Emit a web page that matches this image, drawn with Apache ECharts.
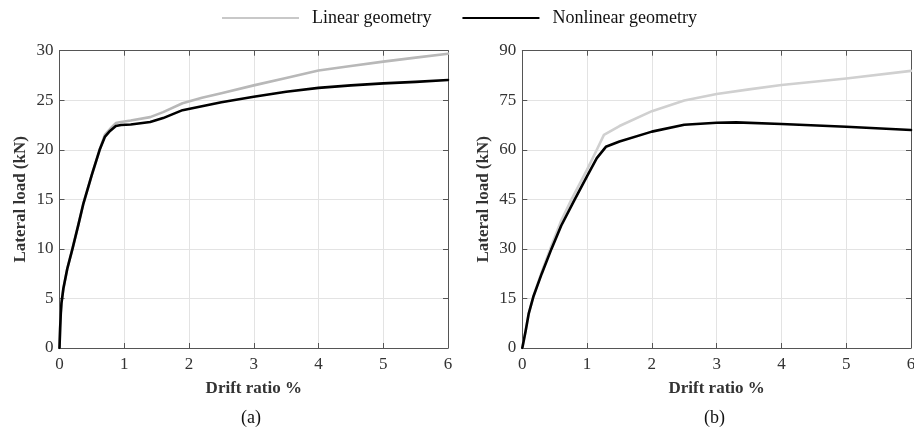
<!DOCTYPE html>
<html>
<head>
<meta charset="utf-8">
<script src="https://cdn.jsdelivr.net/npm/echarts@6/dist/echarts.min.js"></script>
<style>html,body{margin:0;padding:0;background:#fff}#c{width:914px;height:433px}</style>
</head>
<body>
<div id="c"></div>
<script>
// Panel (a)
const aLinX = [0, 0.01, 0.02, 0.03, 0.06, 0.12, 0.2, 0.29, 0.37, 0.5, 0.62, 0.7, 0.78, 0.87, 0.95, 1.1, 1.4, 1.6, 1.9, 2.2, 2.5, 3.0, 3.5, 4.0, 4.5, 5.0, 5.5, 6.0];
const aLinY = [0, 2, 3.5, 4.5, 6, 8, 10, 12.4, 14.6, 17.5, 20, 21.5, 22.1, 22.7, 22.8, 22.95, 23.3, 23.8, 24.7, 25.25, 25.7, 26.5, 27.25, 28.0, 28.45, 28.9, 29.3, 29.7];
const aNonX = [0, 0.01, 0.02, 0.03, 0.06, 0.12, 0.2, 0.29, 0.37, 0.5, 0.62, 0.7, 0.78, 0.87, 0.95, 1.1, 1.4, 1.6, 1.9, 2.2, 2.5, 3.0, 3.5, 4.0, 4.5, 5.0, 5.5, 6.0];
const aNonY = [0, 2, 3.5, 4.5, 6, 8, 10, 12.4, 14.6, 17.5, 20, 21.3, 21.9, 22.4, 22.5, 22.55, 22.8, 23.2, 24.0, 24.4, 24.8, 25.35, 25.85, 26.25, 26.5, 26.7, 26.85, 27.05];
// Panel (b)
const bLinX = [0, 0.02, 0.05, 0.1, 0.17, 0.3, 0.45, 0.6, 0.76, 1.0, 1.15, 1.26, 1.5, 2.0, 2.5, 3.0, 3.5, 4.0, 5.0, 6.0];
const bLinY = [0, 0, 5, 10.5, 15.5, 23, 31, 38.5, 45, 54, 60, 64.5, 67.2, 71.7, 74.9, 76.9, 78.3, 79.6, 81.6, 83.9];
const bNonX = [0, 0.02, 0.05, 0.1, 0.17, 0.3, 0.45, 0.6, 0.81, 1.0, 1.15, 1.29, 1.5, 2.0, 2.5, 3.0, 3.3, 4.0, 5.0, 6.0];
const bNonY = [0, 0, 5, 10.5, 15.5, 22.5, 30, 37, 45, 52, 57.5, 60.9, 62.5, 65.5, 67.6, 68.2, 68.3, 67.8, 67.0, 66.0];

const xTicks = [0, 1, 2, 3, 4, 5, 6];
const aYTicks = [0, 5, 10, 15, 20, 25, 30];
const bYTicks = [0, 15, 30, 45, 60, 75, 90];

const zip = (xs, ys) => xs.map((x, i) => [x, ys[i]]);
const serif = 'Liberation Serif';
const axisColor = '#555';
const gridColor = '#e3e3e3';

function xAxis(grid, pos, show) {
  return {
    type: 'value', gridIndex: grid, position: pos,
    min: xTicks[0], max: xTicks[xTicks.length - 1], interval: 1,
    axisLine: { show: true, onZero: false, lineStyle: { color: axisColor, width: 1 } },
    axisTick: { show: true, inside: true, length: 5, lineStyle: { color: axisColor } },
    axisLabel: { show: show, color: '#333', fontFamily: serif, fontSize: 17, margin: 8, hideOverlap: false },
    splitLine: { show: show, lineStyle: { color: gridColor, width: 1 } },
    name: show ? 'Drift ratio %' : '', nameLocation: 'middle', nameGap: 32,
    nameTextStyle: { color: '#333', fontFamily: serif, fontSize: 17, fontWeight: 'bold' }
  };
}
function yAxis(grid, pos, show, ticks) {
  return {
    type: 'value', gridIndex: grid, position: pos,
    min: ticks[0], max: ticks[ticks.length - 1], interval: ticks[1] - ticks[0],
    axisLine: { show: true, onZero: false, lineStyle: { color: axisColor, width: 1 } },
    axisTick: { show: true, inside: true, length: 5, lineStyle: { color: axisColor } },
    axisLabel: { show: show, color: '#333', fontFamily: serif, fontSize: 17, margin: 6 },
    splitLine: { show: show, lineStyle: { color: gridColor, width: 1 } },
    name: show ? 'Lateral load (kN)' : '', nameLocation: 'middle', nameGap: 30, nameRotate: 90,
    nameTextStyle: { color: '#333', fontFamily: serif, fontSize: 17, fontWeight: 'bold' }
  };
}
function line(name, data, xi, yi, color, z) {
  return {
    name: name, type: 'line', xAxisIndex: xi, yAxisIndex: yi, data: data,
    symbol: 'none', smooth: false, z: z,
    lineStyle: { color: color, width: 2.6, join: 'round', cap: 'round' }, itemStyle: { color: color },
    animation: false
  };
}

const chart = echarts.init(document.getElementById('c'), null, { renderer: 'canvas' });
chart.setOption({
  backgroundColor: '#fff',
  animation: false,
  legend: {
    left: 217, top: 4, itemWidth: 77, itemHeight: 14, itemGap: 31,
    icon: 'path://M0,6 L77,6 L77,8 L0,8 Z',
    textStyle: { fontFamily: serif, fontSize: 18, color: '#111', padding: [0, 0, 0, 8] },
    data: [
      { name: 'Linear geometry', itemStyle: { color: '#c8c8c8' } },
      { name: 'Nonlinear geometry', itemStyle: { color: '#000' } }
    ]
  },
  grid: [
    { left: 59.5, right: 466, top: 50.7, bottom: 85, containLabel: false, outerBoundsMode: 'none' },
    { left: 522.3, right: 3, top: 50.7, bottom: 85, containLabel: false, outerBoundsMode: 'none' }
  ],
  xAxis: [xAxis(0, 'bottom', true), xAxis(0, 'top', false), xAxis(1, 'bottom', true), xAxis(1, 'top', false)],
  yAxis: [yAxis(0, 'left', true, aYTicks), yAxis(0, 'right', false, aYTicks), yAxis(1, 'left', true, bYTicks), yAxis(1, 'right', false, bYTicks)],
  series: [
    line('Linear geometry', zip(aLinX, aLinY), 0, 0, '#b8b8b8', 2),
    line('Nonlinear geometry', zip(aNonX, aNonY), 0, 0, '#000', 3),
    line('Linear geometry', zip(bLinX, bLinY), 2, 2, '#d0d0d0', 2),
    line('Nonlinear geometry', zip(bNonX, bNonY), 2, 2, '#000', 3)
  ],
  graphic: [
    { type: 'text', left: 241, top: 409, style: { text: '(a)', font: '18px "Liberation Serif"', fill: '#111' } },
    { type: 'text', left: 704, top: 409, style: { text: '(b)', font: '18px "Liberation Serif"', fill: '#111' } }
  ]
});
</script>
</body>
</html>
